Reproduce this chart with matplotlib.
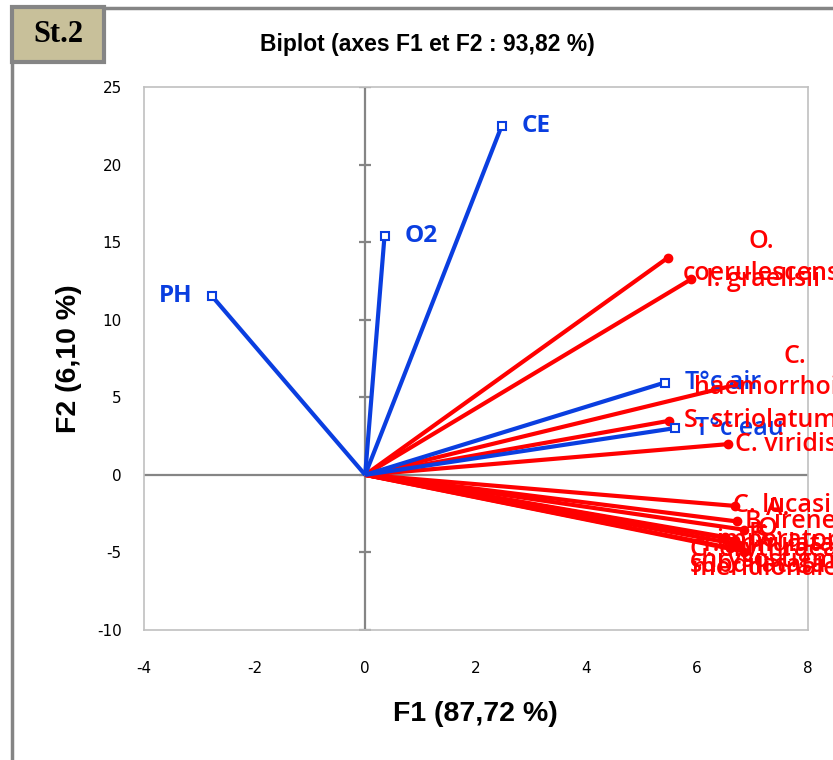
import matplotlib.pyplot as plt
from matplotlib.patches import Rectangle
from matplotlib.lines import Line2D

plt.rcParams['axes.unicode_minus'] = False

# Variables (vecteurs bleus)
var_names = ['CE', 'O2', 'PH', 'T°c air', 'T°c eau']
var_f1 = [2.47, 0.35, -2.77, 5.42, 5.60]
var_f2 = [22.5, 15.4, 11.52, 5.95, 3.01]

# Especes (vecteurs rouges)
sp_names = ['O.\ncoerulescens', 'I. graellsii', 'C.\nhaemorrhoidalis', 'S. striolatum',
            'C. viridis', 'C. lucasii', 'B. irene', 'A.\nimperator', 'C. erythraea',
            'T. annulata', 'O.\nchrysostigma', 'P.\nsubdilatata', 'S.\nmeridionale']
sp_f1 = [5.48, 5.90, 6.77, 5.49, 6.56, 6.68, 6.72, 6.86, 6.68, 6.50, 6.77, 6.59, 6.86]
sp_f2 = [14.01, 12.62, 5.86, 3.48, 1.98, -2.0, -3.0, -3.54, -4.18, -4.0, -4.5, -4.7, -4.95]

xticks = [-4, -2, 0, 2, 4, 6, 8]
yticks = [-10, -5, 0, 5, 10, 15, 20, 25]

# decalage des etiquettes (pixels), Excel les repousse dans la zone du graphique
lab_off = {'C.\nhaemorrhoidalis': (-45, 12), 'C. viridis': (7, 0), 'C. lucasii': (-2, 0),
           'B. irene': (8, 0), 'A.\nimperator': (-28, 5), 'C. erythraea': (-45, -10),
           'T. annulata': (-25, -8), 'O.\nchrysostigma': (-50, 0), 'P.\nsubdilatata': (-40, -2),
           'S.\nmeridionale': (-52, -1)}

W, H = 833, 760
fig = plt.figure(figsize=(W/100, H/100), dpi=100)
ax = fig.add_axes([144/W, 1-630/H, (807.5-144)/W, (630-87)/H])

blue = '#0a3ee0'
red = '#ff0000'
grey = '#858585'

ax.axhline(0, color=grey, lw=1.6, zorder=1)
ax.axvline(0, color=grey, lw=1.6, zorder=1)
ax.plot([0]*len(yticks), yticks, ls='none', marker='_', ms=8, mew=1.6, color=grey, zorder=1)

for x, y in zip(sp_f1, sp_f2):
    ax.plot([0, x], [0, y], color=red, lw=3, solid_capstyle='butt', zorder=2)
    ax.plot(x, y, 'o', color=red, ms=6, zorder=3)
for x, y in zip(var_f1, var_f2):
    ax.plot([0, x], [0, y], color=blue, lw=3, solid_capstyle='butt', zorder=2)
    ax.plot(x, y, 's', mfc='white', mec=blue, mew=1.5, ms=6, zorder=4)

for name, x, y in zip(var_names, var_f1, var_f2):
    bold = name in ('CE', 'O2', 'PH')
    if x < 0:
        ax.annotate(name, (x, y), xytext=(-20, 0), textcoords='offset pixels', ha='right',
                    va='center', color=blue, fontsize=17.5, family='Open Sans',
                    fontweight='bold' if bold else 'semibold', zorder=5, annotation_clip=False)
    else:
        ax.annotate(name, (x, y), xytext=(20, 0), textcoords='offset pixels', ha='left',
                    va='center', color=blue, fontsize=17.5 if bold else 18, family='Open Sans',
                    fontweight='bold' if bold else 'semibold', zorder=5, annotation_clip=False)

for name, x, y in zip(sp_names, sp_f1, sp_f2):
    ax.annotate(name, (x, y), xytext=lab_off.get(name, (15, 0)), textcoords='offset pixels',
                ha='left', va='center', multialignment='center', linespacing=1.35, color=red,
                fontsize=18, fontweight='semibold', family='Open Sans', zorder=5,
                annotation_clip=False)

ax.set_xlim(-4, 8)
ax.set_ylim(-10, 25)
ax.set_xticks(xticks)
ax.set_yticks(yticks)
ax.tick_params(length=0, labelsize=11)
ax.tick_params(axis='y', pad=16)
ax.tick_params(axis='x', pad=22)
for s in ax.spines.values():
    s.set_color('#c0c0c0')
    s.set_linewidth(1.2)

ax.set_xlabel('F1 (87,72 %)', fontsize=20.5, fontweight='bold', family='Liberation Sans', labelpad=18)
ax.set_ylabel('F2 (6,10 %)', fontsize=20.5, fontweight='bold', family='Liberation Sans', labelpad=11)
fig.text(427/W, 1-45/H, 'Biplot (axes F1 et F2 : 93,82 %)', ha='center', va='center',
         fontsize=16.5, fontweight='bold', family='Liberation Sans')

# cadre exterieur et etiquette St.2
fig.add_artist(Line2D([104/W, 1], [1-8/H]*2, color=grey, lw=2.5, transform=fig.transFigure))
fig.add_artist(Line2D([12/W]*2, [1-62/H, 0], color=grey, lw=2.5, transform=fig.transFigure))
fig.add_artist(Rectangle((12/W, 1-62/H), 92/W, 55/H, transform=fig.transFigure,
                         facecolor='#c8c09a', edgecolor=grey, lw=3))
fig.text(58/W, 1-35/H, 'St.2', ha='center', va='center', fontsize=22, fontweight='bold',
         family='Liberation Serif')

fig.savefig('out.png', dpi=100)
